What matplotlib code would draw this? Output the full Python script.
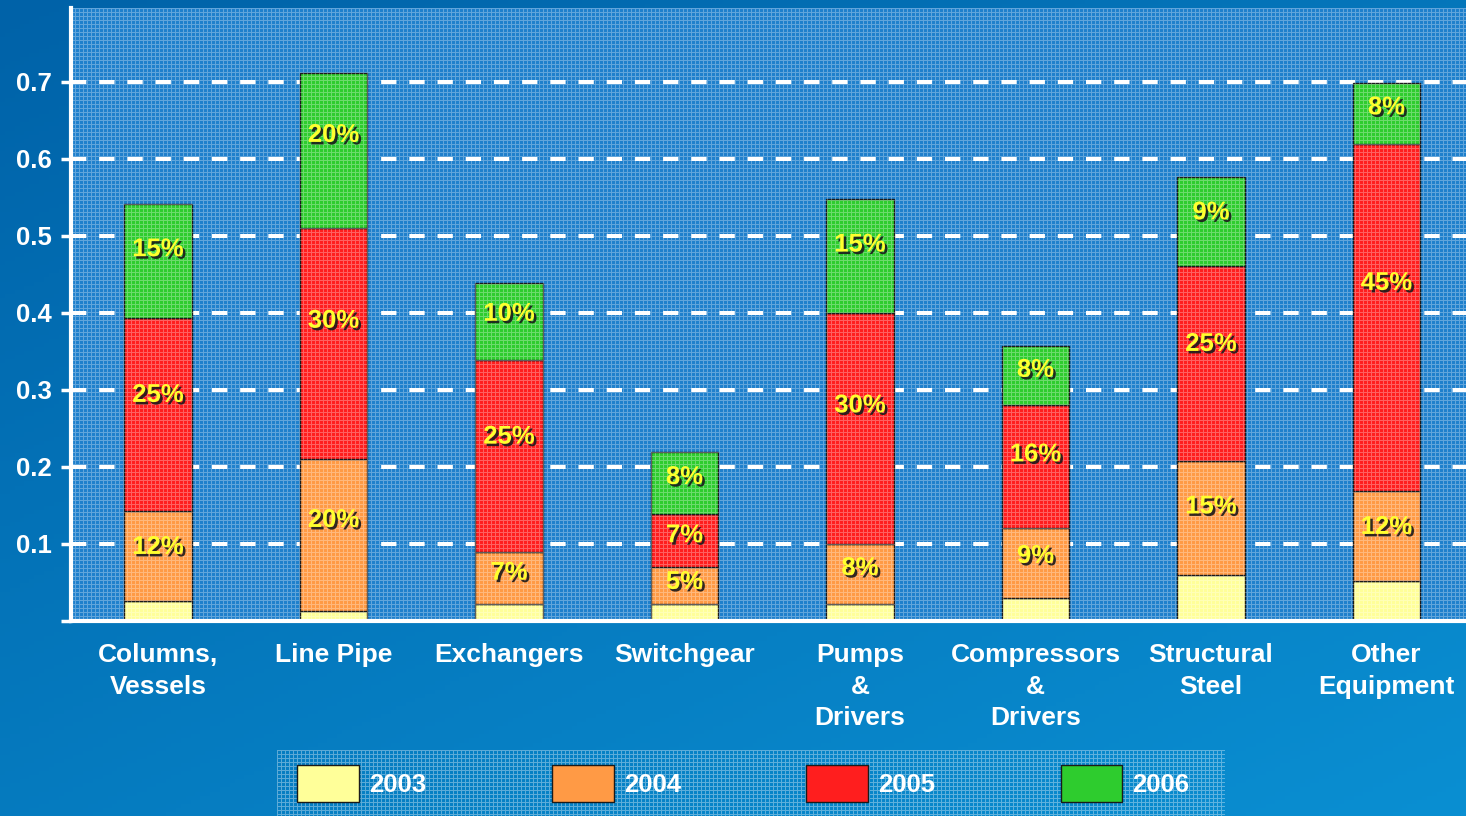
import numpy as np
import matplotlib
matplotlib.use("Agg")
import matplotlib.pyplot as plt
from matplotlib import patheffects as pe
from matplotlib.colors import to_rgb

# ---------------- data ----------------
categories = ["Columns,\nVessels", "Line Pipe", "Exchangers", "Switchgear",
              "Pumps\n&\nDrivers", "Compressors\n&\nDrivers",
              "Structural\nSteel", "Other\nEquipment"]
years = ["2003", "2004", "2005", "2006"]
v2003 = [0.026, 0.013, 0.022, 0.022, 0.022, 0.030, 0.060, 0.052]
v2004 = [0.117, 0.197, 0.068, 0.048, 0.078, 0.091, 0.148, 0.117]
v2005 = [0.251, 0.300, 0.249, 0.069, 0.300, 0.159, 0.253, 0.450]
v2006 = [0.148, 0.202, 0.100, 0.080, 0.148, 0.077, 0.116, 0.080]
lab2003 = ["", "", "", "", "", "", "", ""]
lab2004 = ["12%", "20%", "7%", "5%", "8%", "9%", "15%", "12%"]
lab2005 = ["25%", "30%", "25%", "7%", "30%", "16%", "25%", "45%"]
lab2006 = ["15%", "20%", "10%", "8%", "15%", "8%", "9%", "8%"]
ytick_vals = [0.0, 0.1, 0.2, 0.3, 0.4, 0.5, 0.6, 0.7]
ytick_labels = ["", "0.1", "0.2", "0.3", "0.4", "0.5", "0.6", "0.7"]

colors = ["#FFFF99", "#FF9A45", "#FF1E1E", "#2ECC2E"]

W, H = 1466, 816
FONT = "Liberation Sans"


def grid_mask(h, w, period=4):
    r = np.arange(h)[:, None] % period == 0
    c = np.arange(w)[None, :] % period == 0
    return r | c


def overlay(h, w, alpha=0.3):
    img = np.zeros((h, w, 4))
    m = grid_mask(h, w)
    img[m] = (1, 1, 1, alpha)
    return img


fig = plt.figure(figsize=(W / 100, H / 100), dpi=100)

# gradient background
bg = fig.add_axes([0, 0, 1, 1], zorder=-5)
yy, xx = np.mgrid[0:1:200j, 0:1:300j]
t = np.clip(0.45 * xx + 0.55 * yy, 0, 1)
c0 = np.array(to_rgb("#0062a8"))
c1 = np.array(to_rgb("#0a8fd2"))
grad = c0[None, None, :] * (1 - t[..., None]) + c1[None, None, :] * t[..., None]
bg.imshow(grad, aspect="auto", extent=(0, 1, 0, 1), origin="upper")
bg.axis("off")

# legend background panel
lx0, lx1, ly0, ly1 = 277, 1225, 750, 816
lg = fig.add_axes([lx0 / W, 1 - ly1 / H, (lx1 - lx0) / W, (ly1 - ly0) / H], zorder=-1)
lg.set_facecolor("#3594d6")
lg.imshow(overlay(ly1 - ly0, lx1 - lx0, 0.35), aspect="auto", extent=(0, 1, 0, 1),
          interpolation="nearest")
lg.set_xlim(0, 1)
lg.set_ylim(0, 1)
lg.axis("off")
lg.patch.set_visible(True)

# main axes
ax_l, ax_t, ax_b = 71, 8, 621
ax = fig.add_axes([ax_l / W, 1 - ax_b / H, 1 - ax_l / W, (ax_b - ax_t) / H])
ax.set_facecolor("#1f80cc")

x = np.arange(len(categories))
series = [v2003, v2004, v2005, v2006]
labels = [lab2003, lab2004, lab2005, lab2006]
bottom = np.zeros(len(categories))
containers = []
shadow = [pe.withSimplePatchShadow(offset=(1.8, -1.8), shadow_rgbFace="#1a1a1a", alpha=0.9)]
for vals, col, labs in zip(series, colors, labels):
    vals = np.array(vals)
    cont = ax.bar(x, vals, width=0.387, bottom=bottom, color=col,
                  edgecolor="#1a1a1a", linewidth=1.0, zorder=2)
    containers.append(cont)
    for xi, b, v, lab in zip(x, bottom, vals, labs):
        if lab:
            ax.text(xi, b + 0.6 * v, lab, ha="center", va="center",
                    color="#FFFF2E", fontsize=18.5, fontweight="bold",
                    family=FONT, zorder=4, path_effects=shadow)
    bottom = bottom + vals

# texture overlay over plot area (above bars, below labels)
ph, pw = ax_b - ax_t, W - ax_l
ax.imshow(overlay(ph, pw, 0.3), aspect="auto", extent=(0, 1, 0, 1),
          transform=ax.transAxes, interpolation="nearest", zorder=2.5)
ax.set_xlim(-0.496, 7.453)
ax.set_ylim(0, 0.796)

# grid
ax.set_axisbelow(True)
ax.yaxis.grid(True, color="white", linewidth=2.9, linestyle=(0, (3.8, 3.2)))
ax.xaxis.grid(False)

# spines
for s in ["top", "right"]:
    ax.spines[s].set_visible(False)
for s in ["left", "bottom"]:
    ax.spines[s].set_color("white")
    ax.spines[s].set_linewidth(3)
    ax.spines[s].set_zorder(5)

ax.set_yticks(ytick_vals)
ax.set_yticklabels(ytick_labels, fontsize=18.5, fontweight="bold", family=FONT, color="white")
ax.tick_params(axis="y", colors="white", length=7, width=2.5, pad=7)

ax.set_xticks(x)
ax.set_xticklabels(categories, fontsize=19, fontweight="bold", family=FONT,
                   color="white", linespacing=1.39, multialignment="center")
ax.tick_params(axis="x", length=0, pad=16)

# legend
leg = fig.legend(containers, years, loc="upper left",
                 bbox_to_anchor=((lx0 + 5) / W, 1 - ly0 / H), ncol=4, frameon=False,
                 prop={"family": FONT, "weight": "bold", "size": 18.5},
                 labelcolor="white", handlelength=2.4, handleheight=1.83,
                 handletextpad=0.4, columnspacing=4.88, borderpad=0.6,
                 borderaxespad=0)

fig.savefig("out.png", dpi=100)
